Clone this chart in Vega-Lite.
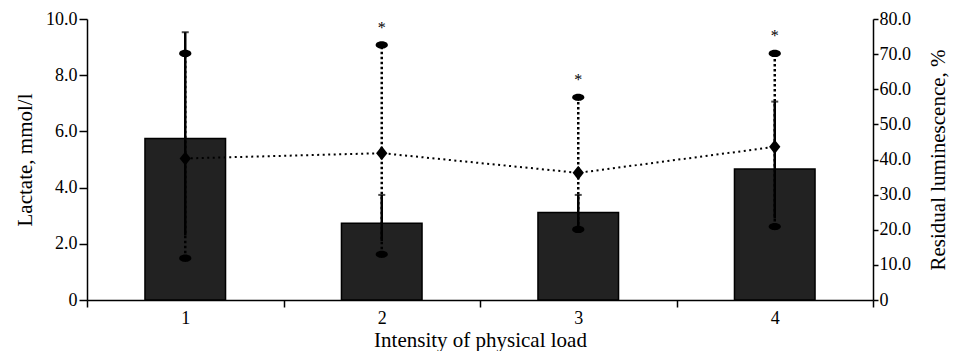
{
  "$schema": "https://vega.github.io/schema/vega-lite/v6.json",
  "width": 786,
  "height": 281,
  "autosize": {"type": "none"},
  "padding": {"left": 87, "top": 19, "right": 81, "bottom": 51},
  "background": "white",
  "config": {
    "view": {"stroke": null},
    "font": "Liberation Serif",
    "axis": {
      "labelFont": "Liberation Serif",
      "labelFontSize": 18,
      "titleFont": "Liberation Serif",
      "titleFontSize": 21,
      "titleFontWeight": "normal",
      "labelColor": "black",
      "titleColor": "black",
      "domainColor": "black",
      "tickColor": "black",
      "domainWidth": 1.5,
      "tickWidth": 1.5,
      "grid": false
    }
  },
  "data": {
    "values": [
      {"load": "1", "lactate": 5.75, "lac_lo": 2.3, "lac_hi": 9.53, "lum": 40.3, "lum_lo": 11.9, "lum_hi": 70.2, "sig": ""},
      {"load": "2", "lactate": 2.73, "lac_lo": 2.1, "lac_hi": 3.74, "lum": 41.8, "lum_lo": 13.0, "lum_hi": 72.6, "sig": "*"},
      {"load": "3", "lactate": 3.11, "lac_lo": 2.5, "lac_hi": 3.74, "lum": 36.2, "lum_lo": 20.1, "lum_hi": 57.7, "sig": "*"},
      {"load": "4", "lactate": 4.66, "lac_lo": 2.9, "lac_hi": 7.06, "lum": 43.6, "lum_lo": 20.9, "lum_hi": 70.2, "sig": "*"}
    ]
  },
  "encoding": {
    "x": {
      "field": "load",
      "type": "ordinal",
      "scale": {"paddingInner": 0, "paddingOuter": 0},
      "axis": {
        "title": "Intensity of physical load",
        "labelAngle": 0,
        "tickBand": "extent",
        "tickSize": 7,
        "labelPadding": 2,
        "titlePadding": 2
      }
    }
  },
  "layer": [
    {
      "mark": {"type": "bar", "width": {"band": 0.41}, "fill": "#222222", "stroke": "#000000", "strokeWidth": 1.5},
      "encoding": {
        "y": {
          "field": "lactate",
          "type": "quantitative",
          "scale": {"domain": [0, 10], "nice": false, "zero": true},
          "axis": {
            "orient": "left",
            "title": "Lactate, mmol/l",
            "values": [0, 2, 4, 6, 8, 10],
            "labelExpr": "datum.value == 0 ? '0' : format(datum.value, '.1f')",
            "labelOverlap": false,
            "tickSize": 8,
            "labelPadding": 2,
            "titlePadding": 10
          }
        }
      }
    },
    {
      "mark": {"type": "line", "color": "black", "strokeWidth": 2, "strokeDash": [2, 3.5]},
      "encoding": {
        "y": {
          "field": "lum",
          "type": "quantitative",
          "scale": {"domain": [0, 80], "nice": false, "zero": true},
          "axis": {
            "orient": "right",
            "title": "Residual luminescence, %",
            "titleAngle": 270,
            "values": [0, 10, 20, 30, 40, 50, 60, 70, 80],
            "labelExpr": "datum.value == 0 ? '0' : format(datum.value, '.1f')",
            "labelOverlap": false,
            "tickSize": 5,
            "labelPadding": 1,
            "titlePadding": 38
          }
        }
      }
    },
    {
      "mark": {"type": "rule", "color": "black", "strokeWidth": 2.5},
      "encoding": {
        "y": {"field": "lac_lo", "type": "quantitative", "scale": {"domain": [0, 10], "nice": false}, "axis": null},
        "y2": {"field": "lac_hi"}
      }
    },
    {
      "mark": {"type": "tick", "color": "black", "thickness": 2, "size": 7, "orient": "horizontal"},
      "encoding": {
        "y": {"field": "lac_hi", "type": "quantitative", "scale": {"domain": [0, 10], "nice": false}, "axis": null}
      }
    },
    {
      "mark": {"type": "rule", "color": "black", "strokeWidth": 2.5, "strokeDash": [2.5, 2.5]},
      "encoding": {
        "y": {"field": "lum_lo", "type": "quantitative", "scale": {"domain": [0, 80], "nice": false}, "axis": null},
        "y2": {"field": "lum_hi"}
      }
    },
    {
      "mark": {"type": "point", "shape": "M-1,0A1,0.6,0,1,0,1,0A1,0.6,0,1,0,-1,0Z", "size": 150, "filled": true, "color": "black", "opacity": 1},
      "encoding": {
        "y": {"field": "lum_hi", "type": "quantitative", "scale": {"domain": [0, 80], "nice": false}, "axis": null}
      }
    },
    {
      "mark": {"type": "point", "shape": "M-1,0A1,0.6,0,1,0,1,0A1,0.6,0,1,0,-1,0Z", "size": 150, "filled": true, "color": "black", "opacity": 1},
      "encoding": {
        "y": {"field": "lum_lo", "type": "quantitative", "scale": {"domain": [0, 80], "nice": false}, "axis": null}
      }
    },
    {
      "mark": {"type": "point", "shape": "M0,-1L0.8,0L0,1L-0.8,0Z", "size": 200, "filled": true, "color": "black", "opacity": 1},
      "encoding": {
        "y": {"field": "lum", "type": "quantitative", "scale": {"domain": [0, 80], "nice": false}, "axis": null}
      }
    },
    {
      "mark": {"type": "text", "fontSize": 16, "font": "Liberation Serif", "fill": "black", "baseline": "middle", "dy": -17},
      "encoding": {
        "y": {"field": "lum_hi", "type": "quantitative", "scale": {"domain": [0, 80], "nice": false}, "axis": null},
        "text": {"field": "sig"}
      }
    }
  ],
  "resolve": {"scale": {"y": "independent"}}
}
